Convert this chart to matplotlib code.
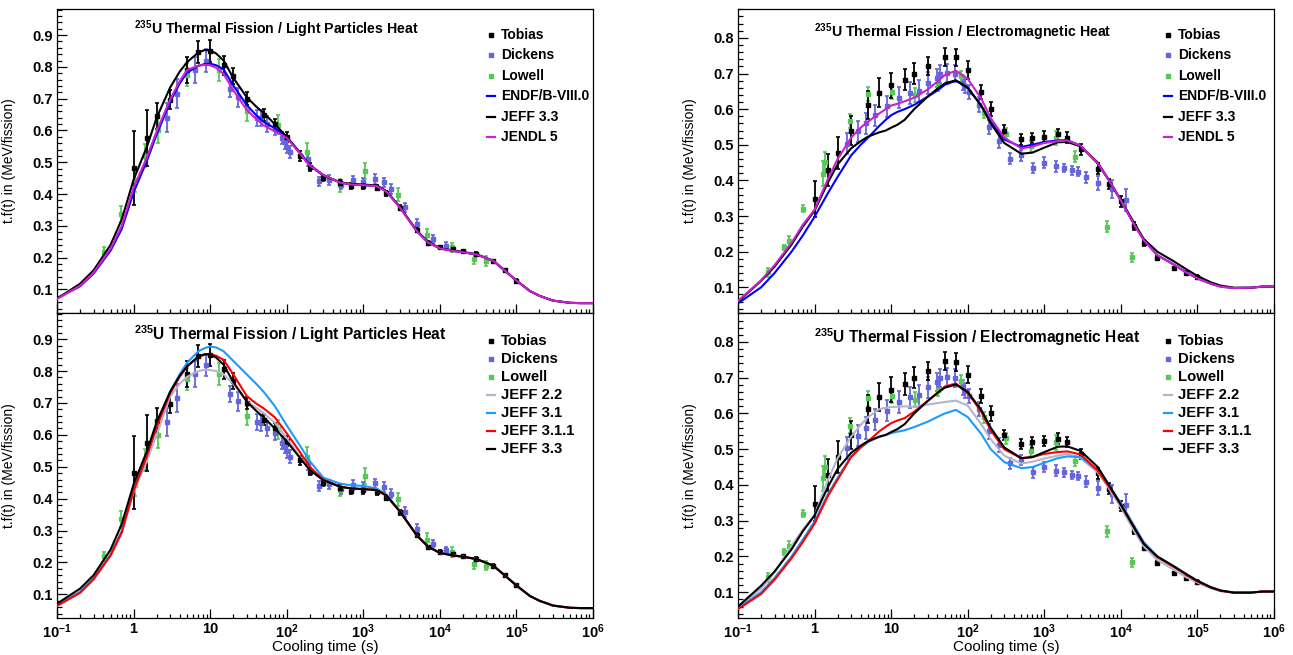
import numpy as np
import matplotlib
matplotlib.use("Agg")
import matplotlib.pyplot as plt
from matplotlib.lines import Line2D
from matplotlib.ticker import FixedLocator, FixedFormatter, MultipleLocator, NullFormatter

plt.rcParams['font.family'] = ['Liberation Sans', 'DejaVu Sans']
plt.rcParams['mathtext.fontset'] = 'custom'
plt.rcParams['mathtext.rm'] = 'Liberation Sans:bold'
plt.rcParams['mathtext.bf'] = 'Liberation Sans:bold'
plt.rcParams['mathtext.default'] = 'rm'

# ---------------------------------------------------------------- curves
curve_t = [0.1, 0.2, 0.3, 0.5, 0.7, 1, 1.5, 2, 3, 4, 5, 7, 8.5, 10, 12, 15, 20, 30, 40,
           50, 70, 100, 150, 200, 300, 500, 700, 1e3, 1.5e3, 2e3, 3e3, 5e3, 7e3, 1e4,
           1.5e4, 2e4, 3e4, 5e4, 7e4, 1e5, 1.5e5, 2e5, 3e5, 5e5, 7e5, 1e6]

# light particles heat
lp_endf8 = [0.072, 0.11, 0.15, 0.222, 0.29, 0.405, 0.506, 0.587, 0.69, 0.748, 0.782,
            0.803, 0.809, 0.81, 0.805, 0.792, 0.742, 0.68, 0.648, 0.627, 0.607, 0.58,
            0.53, 0.492, 0.46, 0.436, 0.43, 0.428, 0.425, 0.408, 0.358, 0.283, 0.248,
            0.229, 0.221, 0.217, 0.21, 0.19, 0.16, 0.128, 0.095, 0.08, 0.065, 0.058,
            0.057, 0.057]
lp_jeff33 = [0.071, 0.118, 0.16, 0.24, 0.32, 0.445, 0.55, 0.64, 0.735, 0.785, 0.815,
             0.845, 0.853, 0.852, 0.842, 0.82, 0.766, 0.705, 0.675, 0.655, 0.62, 0.58,
             0.527, 0.49, 0.458, 0.437, 0.432, 0.43, 0.427, 0.41, 0.36, 0.285, 0.25,
             0.23, 0.222, 0.218, 0.211, 0.19, 0.16, 0.128, 0.095, 0.08, 0.065, 0.058,
             0.057, 0.057]
lp_jendl5 = [0.07, 0.112, 0.153, 0.228, 0.30, 0.42, 0.517, 0.597, 0.697, 0.755, 0.79,
             0.804, 0.806, 0.805, 0.797, 0.778, 0.727, 0.665, 0.636, 0.616, 0.597, 0.577,
             0.527, 0.49, 0.46, 0.436, 0.43, 0.428, 0.425, 0.408, 0.358, 0.283, 0.248,
             0.229, 0.221, 0.217, 0.21, 0.19, 0.16, 0.128, 0.095, 0.08, 0.065, 0.058,
             0.057, 0.057]
lp_jeff22 = [0.064, 0.105, 0.145, 0.22, 0.29, 0.42, 0.52, 0.6, 0.72, 0.76, 0.782,
             0.8, 0.804, 0.803, 0.8, 0.79, 0.76, 0.705, 0.685, 0.668, 0.638, 0.59,
             0.53, 0.49, 0.458, 0.437, 0.432, 0.43, 0.427, 0.41, 0.36, 0.285, 0.25,
             0.23, 0.222, 0.218, 0.211, 0.19, 0.16, 0.128, 0.095, 0.08, 0.065, 0.058,
             0.057, 0.057]
lp_jeff31 = [0.066, 0.108, 0.15, 0.225, 0.298, 0.428, 0.537, 0.627, 0.735, 0.79, 0.826,
             0.862, 0.872, 0.877, 0.874, 0.862, 0.832, 0.79, 0.76, 0.735, 0.69, 0.63,
             0.565, 0.518, 0.466, 0.447, 0.442, 0.44, 0.432, 0.413, 0.362, 0.285, 0.25,
             0.23, 0.222, 0.218, 0.211, 0.19, 0.16, 0.128, 0.095, 0.08, 0.065, 0.058,
             0.057, 0.057]
lp_jeff311 = [0.064, 0.105, 0.148, 0.222, 0.295, 0.425, 0.535, 0.625, 0.73, 0.782, 0.815,
              0.845, 0.851, 0.853, 0.848, 0.835, 0.79, 0.722, 0.698, 0.683, 0.655, 0.605,
              0.545, 0.5, 0.46, 0.438, 0.432, 0.43, 0.427, 0.41, 0.36, 0.285, 0.25,
              0.23, 0.222, 0.218, 0.211, 0.19, 0.16, 0.128, 0.095, 0.08, 0.065, 0.058,
              0.057, 0.057]

# electromagnetic heat
em_endf8 = [0.055, 0.1, 0.14, 0.2, 0.245, 0.298, 0.365, 0.41, 0.47, 0.5, 0.52,
            0.553, 0.57, 0.583, 0.592, 0.6, 0.612, 0.635, 0.652, 0.668, 0.68, 0.66,
            0.61, 0.565, 0.515, 0.494, 0.5, 0.508, 0.512, 0.513, 0.497, 0.447, 0.4,
            0.343, 0.275, 0.232, 0.19, 0.163, 0.143, 0.125, 0.11, 0.102, 0.098, 0.099,
            0.102, 0.102]
em_jeff33 = [0.06, 0.118, 0.158, 0.22, 0.27, 0.315, 0.395, 0.445, 0.49, 0.51, 0.523,
             0.535, 0.54, 0.548, 0.556, 0.57, 0.6, 0.635, 0.657, 0.672, 0.681, 0.66,
             0.61, 0.56, 0.505, 0.475, 0.478, 0.492, 0.507, 0.508, 0.495, 0.45, 0.4,
             0.345, 0.28, 0.235, 0.2, 0.172, 0.152, 0.132, 0.114, 0.105, 0.099, 0.099,
             0.102, 0.102]
em_jendl5 = [0.062, 0.12, 0.162, 0.225, 0.275, 0.318, 0.405, 0.46, 0.52, 0.548, 0.565,
             0.588, 0.6, 0.61, 0.615, 0.622, 0.632, 0.655, 0.677, 0.695, 0.708, 0.685,
             0.63, 0.575, 0.52, 0.49, 0.495, 0.505, 0.51, 0.512, 0.497, 0.448, 0.4,
             0.344, 0.275, 0.232, 0.19, 0.163, 0.143, 0.125, 0.11, 0.102, 0.098, 0.099,
             0.102, 0.102]
em_jeff22 = [0.058, 0.11, 0.155, 0.23, 0.275, 0.315, 0.415, 0.475, 0.535, 0.568, 0.59,
             0.612, 0.616, 0.618, 0.619, 0.62, 0.619, 0.625, 0.629, 0.632, 0.636, 0.622,
             0.57, 0.528, 0.482, 0.46, 0.465, 0.474, 0.482, 0.487, 0.475, 0.435, 0.39,
             0.338, 0.27, 0.228, 0.19, 0.162, 0.143, 0.127, 0.111, 0.103, 0.098, 0.099,
             0.102, 0.102]
em_jeff31 = [0.055, 0.1, 0.14, 0.2, 0.247, 0.298, 0.375, 0.42, 0.48, 0.505, 0.52,
             0.535, 0.54, 0.545, 0.549, 0.553, 0.562, 0.577, 0.59, 0.6, 0.61, 0.59,
             0.543, 0.5, 0.464, 0.447, 0.45, 0.462, 0.475, 0.48, 0.478, 0.44, 0.398,
             0.35, 0.285, 0.24, 0.2, 0.17, 0.152, 0.132, 0.114, 0.105, 0.099, 0.099,
             0.102, 0.102]
em_jeff311 = [0.053, 0.095, 0.135, 0.195, 0.24, 0.292, 0.37, 0.415, 0.478, 0.505, 0.522,
              0.55, 0.563, 0.573, 0.58, 0.587, 0.605, 0.635, 0.657, 0.675, 0.684, 0.658,
              0.605, 0.553, 0.5, 0.475, 0.478, 0.487, 0.492, 0.494, 0.485, 0.44, 0.395,
              0.345, 0.28, 0.235, 0.198, 0.17, 0.15, 0.13, 0.113, 0.104, 0.099, 0.099,
              0.102, 0.102]

# ---------------------------------------------------------------- measurements
tobias_t = [1, 1.5, 2, 3, 5, 7, 10, 15, 20, 30, 50, 70, 100, 150, 200, 300, 500, 700,
            1e3, 1.5e3, 2e3, 3e3, 5e3, 7e3, 1e4, 1.5e4, 2e4, 3e4, 5e4, 7e4, 1e5]
tobias_lp = [0.482, 0.575, 0.645, 0.697, 0.79, 0.847, 0.851, 0.805, 0.77, 0.70, 0.648,
             0.621, 0.58, 0.52, 0.485, 0.45, 0.435, 0.425, 0.426, 0.42, 0.403, 0.357,
             0.286, 0.247, 0.233, 0.226, 0.22, 0.212, 0.189, 0.16, 0.128]
tobias_lp_err = [0.115, 0.088, 0.04, 0.03, 0.04, 0.035, 0.035, 0.03, 0.025, 0.02, 0.018,
                 0.016, 0.015, 0.015, 0.012, 0.01, 0.01, 0.01, 0.01, 0.008, 0.008, 0.008,
                 0.006, 0.006, 0.005, 0.005, 0.005, 0.005, 0.005, 0.005, 0.005]
tobias_em = [0.348, 0.428, 0.478, 0.54, 0.612, 0.646, 0.667, 0.683, 0.70, 0.72, 0.747,
             0.745, 0.709, 0.648, 0.6, 0.54, 0.515, 0.519, 0.523, 0.529, 0.52, 0.487,
             0.433, 0.39, 0.341, 0.272, 0.225, 0.182, 0.153, 0.14, 0.13]
tobias_em_err = [0.05, 0.045, 0.045, 0.04, 0.04, 0.04, 0.035, 0.03, 0.03, 0.025, 0.025,
                 0.025, 0.025, 0.02, 0.02, 0.015, 0.015, 0.015, 0.015, 0.015, 0.015,
                 0.015, 0.015, 0.015, 0.015, 0.01, 0.008, 0.005, 0.005, 0.005, 0.005]

dickens_lp_t = [2.75, 3.67, 6.3, 8.9, 18, 23, 40.6, 46, 55, 71, 87, 94, 102, 112, 188,
                266, 354, 512, 724, 1000, 1430, 1850, 2300, 3500, 5100, 8100, 12000]
dickens_lp = [0.64, 0.716, 0.79, 0.82, 0.729, 0.705, 0.64, 0.638, 0.62, 0.605, 0.576,
              0.563, 0.548, 0.532, 0.509, 0.44, 0.445, 0.43, 0.443, 0.437, 0.448, 0.437,
              0.416, 0.358, 0.306, 0.259, 0.238]
dickens_lp_err = [0.045, 0.045, 0.04, 0.035, 0.025, 0.03, 0.025, 0.025, 0.025, 0.02, 0.02,
                  0.02, 0.02, 0.02, 0.02, 0.015, 0.015, 0.015, 0.015, 0.015, 0.015, 0.015,
                  0.015, 0.015, 0.015, 0.012, 0.012]
dickens_em_t = [2.67, 3.7, 4.65, 6.2, 8.7, 12.7, 17.6, 23, 30, 40, 43.8, 54, 68, 86, 92,
                104, 139, 189, 258, 352, 497, 705, 1000, 1420, 1800, 2270, 2780, 3540,
                5000, 7750, 11600]
dickens_em = [0.503, 0.538, 0.56, 0.583, 0.608, 0.632, 0.645, 0.651, 0.673, 0.688, 0.698,
              0.702, 0.70, 0.673, 0.664, 0.648, 0.613, 0.55, 0.512, 0.461, 0.47, 0.435,
              0.45, 0.44, 0.435, 0.428, 0.425, 0.409, 0.392, 0.376, 0.345]
dickens_em_err = [0.03, 0.03, 0.03, 0.03, 0.03, 0.03, 0.03, 0.03, 0.03, 0.025, 0.025,
                  0.025, 0.025, 0.02, 0.02, 0.02, 0.02, 0.02, 0.02, 0.015, 0.015, 0.015,
                  0.015, 0.015, 0.012, 0.012, 0.012, 0.015, 0.02, 0.025, 0.03]

lowell_lp_t = [0.41, 0.68, 1.03, 1.41, 2.1, 5, 13, 30, 78, 184, 491, 1040, 2820, 6800,
               14600, 27600, 40000]
lowell_lp = [0.219, 0.337, 0.443, 0.521, 0.60, 0.776, 0.79, 0.66, 0.618, 0.532, 0.427,
             0.472, 0.398, 0.271, 0.232, 0.196, 0.19]
lowell_lp_err = [0.015, 0.025, 0.035, 0.035, 0.04, 0.035, 0.035, 0.03, 0.03, 0.03, 0.02,
                 0.025, 0.02, 0.02, 0.015, 0.015, 0.015]
lowell_em_t = [0.25, 0.40, 0.46, 0.70, 1.29, 1.37, 2.93, 4.94, 10.2, 20.7, 41.5, 81, 162,
               316, 675, 1420, 2550, 6620, 14000]
lowell_em = [0.142, 0.212, 0.229, 0.32, 0.419, 0.451, 0.566, 0.642, 0.648, 0.639, 0.665,
             0.692, 0.589, 0.531, 0.496, 0.519, 0.467, 0.27, 0.184]
lowell_em_err = [0.012, 0.008, 0.015, 0.01, 0.035, 0.03, 0.02, 0.02, 0.02, 0.02, 0.015,
                 0.015, 0.015, 0.015, 0.015, 0.02, 0.015, 0.015, 0.012]

decade_ticks = [1e-1, 1, 10, 1e2, 1e3, 1e4, 1e5, 1e6]
decade_labels = ['10$^{-1}$', '1', '10', '10$^{2}$', '10$^{3}$', '10$^{4}$',
                 '10$^{5}$', '10$^{6}$']

C_TOBIAS = 'black'
C_DICKENS = '#6464dc'
C_LOWELL = '#55c855'
C_ENDF = '#0000ff'
C_JEFF33 = 'black'
C_JENDL = '#cc22cc'
C_JEFF22 = '#b4b4cc'
C_JEFF31 = '#1a9bff'
C_JEFF311 = '#ff0000'

# ---------------------------------------------------------------- figure
W, H = 1293, 655
fig = plt.figure(figsize=(W / 100, H / 100), dpi=100)


def add_panel(x0, y0, x1, y1):
    return fig.add_axes([x0 / W, 1 - y1 / H, (x1 - x0) / W, (y1 - y0) / H])


def fx(x):
    return x / W


def fy(y):
    return 1 - y / H


def style_axes(ax, ylim, show_xlabels):
    ax.set_xscale('log')
    ax.set_xlim(0.1, 1e6)
    ax.set_ylim(*ylim)
    ax.xaxis.set_major_locator(FixedLocator(decade_ticks))
    minors = [m * 10.0 ** e for e in range(-1, 6) for m in range(2, 10)]
    ax.xaxis.set_minor_locator(FixedLocator(minors))
    ax.xaxis.set_minor_formatter(NullFormatter())
    if show_xlabels:
        ax.xaxis.set_major_formatter(FixedFormatter(decade_labels))
    else:
        ax.xaxis.set_major_formatter(NullFormatter())
    ax.yaxis.set_major_locator(MultipleLocator(0.1))
    ax.yaxis.set_minor_locator(MultipleLocator(0.02))
    ax.tick_params(axis='both', which='both', direction='in', top=False, right=False,
                   width=0.9)
    ax.tick_params(axis='x', which='major', length=6.5, pad=3, labelsize=10.5)
    ax.tick_params(axis='x', which='minor', length=3.2)
    ax.tick_params(axis='y', which='major', length=7, pad=3, labelsize=10.5)
    ax.tick_params(axis='y', which='minor', length=3.5)
    for lab in ax.get_xticklabels() + ax.get_yticklabels():
        lab.set_fontweight('bold')
    for sp in ax.spines.values():
        sp.set_linewidth(0.9)
    ax.set_ylabel('t.f(t) in (MeV/fission)', fontsize=10)
    ax.yaxis.set_label_coords(-0.0765, 0.5)
    if show_xlabels:
        ax.set_xlabel('Cooling time (s)', fontsize=11)
        ax.xaxis.set_label_coords(0.5, -0.071)


def draw_data(ax, kind):
    if kind == 'lp':
        sets = [(lowell_lp_t, lowell_lp, lowell_lp_err, C_LOWELL),
                (dickens_lp_t, dickens_lp, dickens_lp_err, C_DICKENS),
                (tobias_t, tobias_lp, tobias_lp_err, C_TOBIAS)]
    else:
        sets = [(lowell_em_t, lowell_em, lowell_em_err, C_LOWELL),
                (dickens_em_t, dickens_em, dickens_em_err, C_DICKENS),
                (tobias_t, tobias_em, tobias_em_err, C_TOBIAS)]
    for t, v, e, c in sets:
        ax.errorbar(t, v, yerr=e, fmt='s', ms=3.5, mfc=c, mec=c, ecolor=c,
                    elinewidth=1.3, capsize=1.6, capthick=1.2, zorder=3)


def draw_curves(ax, curves):
    for vals, c in curves:
        ax.plot(curve_t, vals, color=c, lw=1.5, zorder=4, solid_joinstyle='round')


def draw_title(x, y, text, size):
    fig.text(fx(x), fy(y), '$^{235}$U ' + text, fontsize=size, fontweight='bold',
             ha='left', va='center')


def draw_legend(entries, xm, y0, dy, size):
    for i, (label, c, is_data) in enumerate(entries):
        y = y0 + i * dy
        if is_data:
            fig.add_artist(Line2D([fx(xm)], [fy(y)], marker='s', ms=3.4, color=c,
                                  linestyle='none', transform=fig.transFigure))
        else:
            fig.add_artist(Line2D([fx(xm - 4), fx(xm + 4)], [fy(y), fy(y)], color=c,
                                  lw=1.6, transform=fig.transFigure))
        fig.text(fx(xm + 10), fy(y), label, fontsize=size, fontweight='bold',
                 ha='left', va='center')


LP_YLIM = (0.026, 0.982)
EM_YLIM = (0.028, 0.881)

ax_lt = add_panel(57, 9, 593, 313)
ax_lb = add_panel(57, 313, 593, 618)
ax_rt = add_panel(738, 9, 1274, 313)
ax_rb = add_panel(738, 313, 1274, 618)

style_axes(ax_lt, LP_YLIM, False)
style_axes(ax_lb, LP_YLIM, True)
style_axes(ax_rt, EM_YLIM, False)
style_axes(ax_rb, EM_YLIM, True)

draw_data(ax_lt, 'lp')
draw_curves(ax_lt, [(lp_endf8, C_ENDF), (lp_jeff33, C_JEFF33), (lp_jendl5, C_JENDL)])
draw_data(ax_lb, 'lp')
draw_curves(ax_lb, [(lp_jeff22, C_JEFF22), (lp_jeff31, C_JEFF31),
                    (lp_jeff311, C_JEFF311), (lp_jeff33, C_JEFF33)])
draw_data(ax_rt, 'em')
draw_curves(ax_rt, [(em_endf8, C_ENDF), (em_jeff33, C_JEFF33), (em_jendl5, C_JENDL)])
draw_data(ax_rb, 'em')
draw_curves(ax_rb, [(em_jeff22, C_JEFF22), (em_jeff31, C_JEFF31),
                    (em_jeff311, C_JEFF311), (em_jeff33, C_JEFF33)])

draw_title(134, 29, 'Thermal Fission / Light Particles Heat', 10.2)
draw_title(134, 334, 'Thermal Fission / Light Particles Heat', 11.2)
draw_title(814, 32, 'Thermal Fission / Electromagnetic Heat', 10.2)
draw_title(814, 337, 'Thermal Fission / Electromagnetic Heat', 11.2)

top_entries = [('Tobias', C_TOBIAS, True), ('Dickens', C_DICKENS, True),
               ('Lowell', C_LOWELL, True), ('ENDF/B-VIII.0', C_ENDF, False),
               ('JEFF 3.3', C_JEFF33, False), ('JENDL 5', C_JENDL, False)]
bot_entries = [('Tobias', C_TOBIAS, True), ('Dickens', C_DICKENS, True),
               ('Lowell', C_LOWELL, True), ('JEFF 2.2', C_JEFF22, False),
               ('JEFF 3.1', C_JEFF31, False), ('JEFF 3.1.1', C_JEFF311, False),
               ('JEFF 3.3', C_JEFF33, False)]
draw_legend(top_entries, 491, 35, 20.4, 10)
draw_legend(bot_entries, 491, 341, 18, 10.7)
draw_legend(top_entries, 1168, 35, 20.4, 10)
draw_legend(bot_entries, 1168, 341, 18, 10.7)

fig.savefig('out.png', dpi=100)
